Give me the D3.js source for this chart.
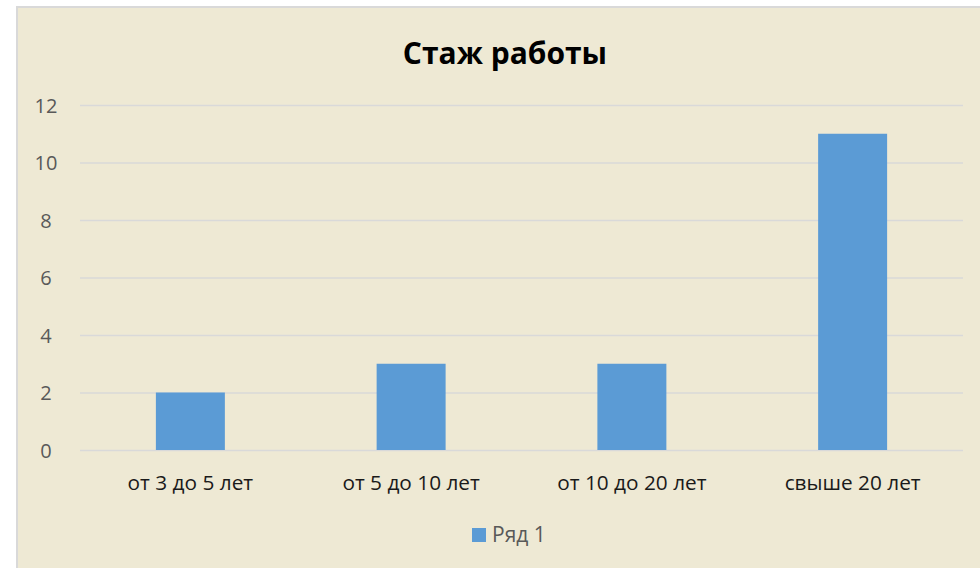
<!DOCTYPE html>
<html><head><meta charset="utf-8">
<script src="https://cdn.jsdelivr.net/npm/d3@7"></script>
<style>html,body{margin:0;padding:0;background:#fff;}svg{display:block;}</style>
</head><body>
<script>
const categories = ["от 3 до 5 лет", "от 5 до 10 лет", "от 10 до 20 лет", "свыше 20 лет"];
const values = [2, 3, 3, 11];
const yTicks = [0, 2, 4, 6, 8, 10, 12];
const seriesName = "Ряд 1";
const title = "Стаж работы";

const W = 980, H = 568;
const svg = d3.select("body").append("svg").attr("width", W).attr("height", H);
const font = "'Open Sans', 'Noto Sans', sans-serif";

svg.append("rect").attr("x", 17).attr("y", 7).attr("width", 980).attr("height", 580)
  .attr("fill", "#EEE9D4").attr("stroke", "#D9D9D9").attr("stroke-width", 2);

const pL = 80, pR = 963, pT = 105, pB = 450;
const x = d3.scaleBand().domain(categories).range([pL, pR]).paddingInner(0.6875).paddingOuter(0.34375);
const y = d3.scaleLinear().domain([0, 12]).range([pB, pT]);

const yAxis = svg.append("g").attr("transform", `translate(${pL},0)`)
  .call(d3.axisLeft(y).tickValues(yTicks).tickSize(-(pR - pL)).tickFormat(d3.format("d")));
yAxis.select(".domain").remove();
yAxis.selectAll(".tick line").attr("stroke", "#D9D9D9").attr("stroke-width", 1.3);
yAxis.selectAll(".tick text").attr("x", -34).attr("text-anchor", "middle").attr("dy", "0.35em")
  .attr("fill", "#595959").style("font-family", font).style("font-size", "20px");

svg.append("g").selectAll("rect").data(values).join("rect")
  .attr("x", (d, i) => x(categories[i]))
  .attr("width", x.bandwidth())
  .attr("y", d => y(d))
  .attr("height", d => y(0) - y(d))
  .attr("fill", "#5B9BD5");

const xAxis = svg.append("g").attr("transform", `translate(0,${pB})`)
  .call(d3.axisBottom(d3.scaleBand().domain(categories).range([pL, pR])).tickSize(0).tickPadding(0));
xAxis.select(".domain").remove();
xAxis.selectAll(".tick text").attr("y", 40).attr("dy", null).attr("fill", "#1a1a1a")
  .style("font-family", font).style("font-size", "20.8px");

svg.append("text").attr("x", 505).attr("y", 64).attr("text-anchor", "middle")
  .style("font-family", font).style("font-weight", "bold").style("font-size", "30px").attr("fill", "#000")
  .text(title);

const lg = svg.append("g");
lg.append("rect").attr("x", 472).attr("y", 528).attr("width", 14).attr("height", 14).attr("fill", "#5B9BD5");
lg.append("text").attr("x", 492).attr("y", 542).attr("fill", "#595959")
  .style("font-family", font).style("font-size", "21px").text(seriesName);
</script>
</body></html>
